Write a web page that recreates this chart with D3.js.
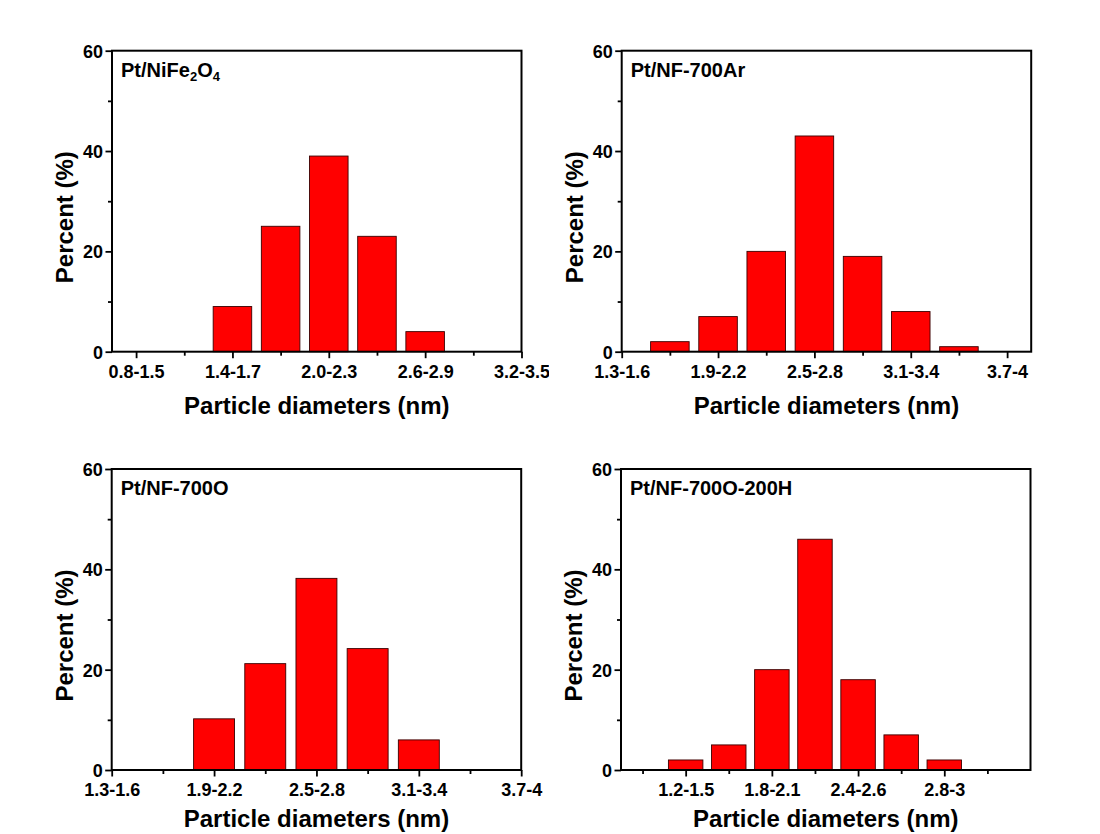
<!DOCTYPE html>
<html>
<head>
<meta charset="utf-8">
<script src="https://cdn.jsdelivr.net/npm/d3@7/dist/d3.min.js"></script>
<style>
  html, body { margin: 0; padding: 0; background: #fff; }
  svg { display: block; }
  text { font-family: "Liberation Sans", Arial, sans-serif; font-weight: bold; fill: #000; }
</style>
</head>
<body>
<svg id="chart" width="1100" height="834"></svg>
<script>
// ---------------- DATA ----------------
const yMajorTicks = [0, 20, 40, 60];
const yMinorTicks = [10, 30, 50];

const p1Title = "Pt/NiFe2O4";
const p1Labels = ["0.8-1.5", "", "1.4-1.7", "", "2.0-2.3", "", "2.6-2.9", "", "3.2-3.5"];
const p1Values = [0, 0, 9, 25, 39, 23, 4, 0, 0];

const p2Title = "Pt/NF-700Ar";
const p2Labels = ["1.3-1.6", "", "1.9-2.2", "", "2.5-2.8", "", "3.1-3.4", "", "3.7-4"];
const p2Values = [0, 2, 7, 20, 43, 19, 8, 1, 0];

const p3Title = "Pt/NF-700O";
const p3Labels = ["1.3-1.6", "", "1.9-2.2", "", "2.5-2.8", "", "3.1-3.4", "", "3.7-4"];
const p3Values = [0, 0, 10.2, 21.2, 38.2, 24.2, 6, 0, 0];

const p4Title = "Pt/NF-700O-200H";
const p4Labels = ["", "1.2-1.5", "", "1.8-2.1", "", "2.4-2.6", "", "2.8-3", ""];
const p4Values = [0, 2, 5, 20, 46, 18, 7, 2, 0];

const xTitle = "Particle diameters (nm)";
const yTitle = "Percent (%)";

// ---------------- LAYOUT ----------------
const PW = 409.5, PH = 301;
const panels = [
  { x0: 112,   y0: 50.7, domain: [-0.5, 8], labels: p1Labels, values: p1Values, title: p1Title, clipRight: 549, xTitleDy: 62 },
  { x0: 621.7, y0: 50.7, domain: [0, 8.5],  labels: p2Labels, values: p2Values, title: p2Title, xTitleDy: 62 },
  { x0: 111.7, y0: 469,  domain: [0, 8],    labels: p3Labels, values: p3Values, title: p3Title, xTitleDy: 57 },
  { x0: 621,   y0: 469,  domain: [-0.5, 9], labels: p4Labels, values: p4Values, title: p4Title, xTitleDy: 57 }
];

const svg = d3.select("#chart");
const defs = svg.append("defs");
const FONT = '"Liberation Sans", Arial, sans-serif';

panels.forEach((cfg, pi) => {
  const g = svg.append("g").attr("transform", `translate(${cfg.x0},${cfg.y0})`);
  if (cfg.clipRight) {
    defs.append("clipPath").attr("id", "clip" + pi)
      .append("rect").attr("x", -200).attr("y", -100)
      .attr("width", cfg.clipRight - cfg.x0 + 200).attr("height", 600);
    g.attr("clip-path", `url(#clip${pi})`);
  }
  const x = d3.scaleLinear().domain(cfg.domain).range([0, PW]);
  const y = d3.scaleLinear().domain([0, 60]).range([PH, 0]);
  const idx = cfg.values.map((_, i) => i);
  const half = 0.4;

  // bars
  g.selectAll("rect.bar")
    .data(cfg.values.map((v, i) => ({ v, i })).filter(d => d.v > 0))
    .join("rect").attr("class", "bar")
    .attr("x", d => x(d.i - half))
    .attr("width", d => x(d.i + half) - x(d.i - half))
    .attr("y", d => y(d.v))
    .attr("height", d => y(0) - y(d.v))
    .attr("fill", "#ff0000")
    .attr("stroke", "#3a0000")
    .attr("stroke-width", 0.9);

  // frame
  g.append("rect").attr("x", 0).attr("y", 0).attr("width", PW).attr("height", PH)
    .attr("fill", "none").attr("stroke", "#000").attr("stroke-width", 2);

  // x axis
  const major = idx.filter(i => cfg.labels[i] !== "");
  const minor = idx.filter(i => cfg.labels[i] === "");
  const xa = g.append("g").attr("transform", `translate(0,${PH})`)
    .call(d3.axisBottom(x).tickValues(major).tickFormat(i => cfg.labels[i]).tickSize(6.5).tickSizeOuter(0));
  const xm = g.append("g").attr("transform", `translate(0,${PH})`)
    .call(d3.axisBottom(x).tickValues(minor).tickFormat("").tickSize(4).tickSizeOuter(0));
  [xa, xm].forEach(a => {
    a.select(".domain").remove();
    a.selectAll("line").attr("stroke", "#000").attr("stroke-width", 1.8);
  });
  xa.selectAll("text").attr("y", 26).attr("dy", null)
    .style("font-size", "18px").style("font-family", FONT).style("font-weight", "bold").attr("fill", "#000");

  // y axis
  const ya = g.append("g")
    .call(d3.axisLeft(y).tickValues(yMajorTicks).tickFormat(d3.format("d")).tickSize(6.5).tickSizeOuter(0));
  const ym = g.append("g")
    .call(d3.axisLeft(y).tickValues(yMinorTicks).tickFormat("").tickSize(4).tickSizeOuter(0));
  [ya, ym].forEach(a => {
    a.select(".domain").remove();
    a.selectAll("line").attr("stroke", "#000").attr("stroke-width", 1.8);
  });
  ya.selectAll("text").attr("x", -9).attr("dy", "0.36em")
    .style("font-size", "18px").style("font-family", FONT).style("font-weight", "bold").attr("fill", "#000");

  // panel title (with subscripts for chemical formula)
  const t = g.append("text").attr("x", 9).attr("y", 26).style("font-size", "20px");
  const parts = cfg.title.match(/[A-Za-z\/\-]+|\d+/g);
  if (pi === 0) {
    parts.forEach(p => {
      if (/^\d+$/.test(p)) {
        t.append("tspan").text(p).attr("baseline-shift", "-30%").style("font-size", "13px");
      } else {
        t.append("tspan").text(p);
      }
    });
  } else {
    t.text(cfg.title);
  }

  // axis titles
  g.append("text").attr("x", PW / 2).attr("y", PH + cfg.xTitleDy).attr("text-anchor", "middle")
    .style("font-size", "24px").text(xTitle);
  g.append("text").attr("transform", `translate(-39,${PH / 2 + 16}) rotate(-90)`)
    .attr("text-anchor", "middle").style("font-size", "24px").text(yTitle);
});
</script>
</body>
</html>
